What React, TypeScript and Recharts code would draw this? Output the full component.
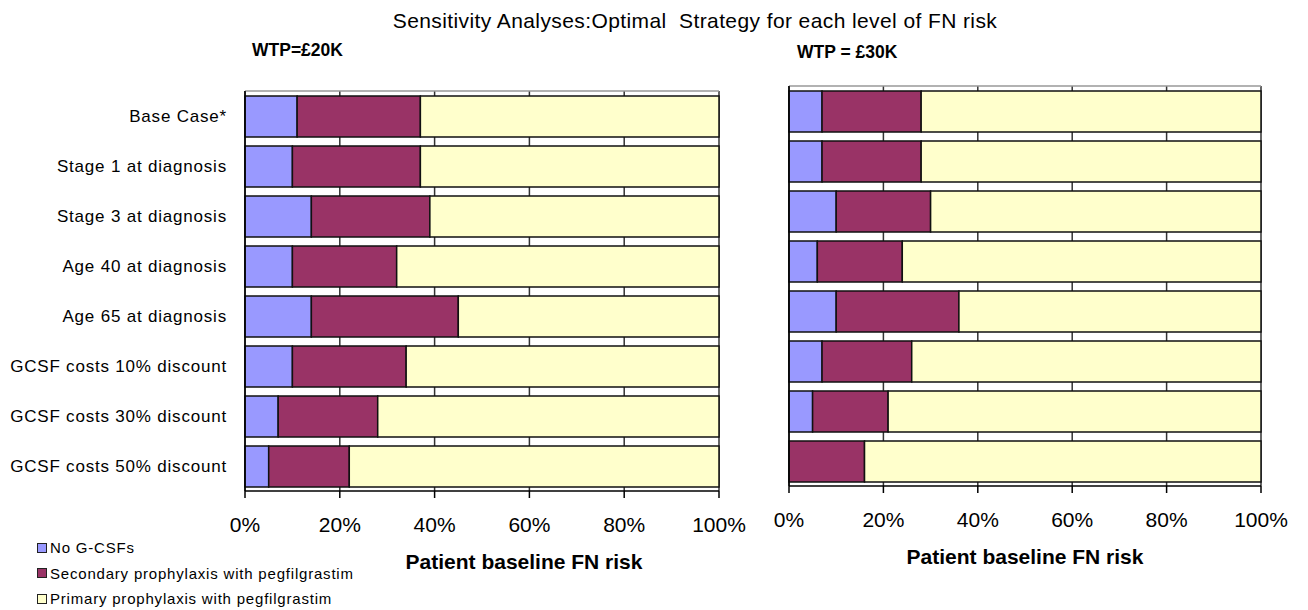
import { BarChart, Bar, XAxis, YAxis, CartesianGrid, Legend, Label } from 'recharts';

const categories = [
  'Base Case*',
  'Stage 1 at diagnosis',
  'Stage 3 at diagnosis',
  'Age 40 at diagnosis',
  'Age 65 at diagnosis',
  'GCSF costs 10% discount',
  'GCSF costs 30% discount',
  'GCSF costs 50% discount'
];

// WTP = £20K (share of patients, %)
const noGcsf20 = [11, 10, 14, 10, 14, 10, 7, 5];
const secondary20 = [26, 27, 25, 22, 31, 24, 21, 17];
const primary20 = [63, 63, 61, 68, 55, 66, 72, 78];

// WTP = £30K
const noGcsf30 = [7, 7, 10, 6, 10, 7, 5, 0];
const secondary30 = [21, 21, 20, 18, 26, 19, 16, 16];
const primary30 = [72, 72, 70, 76, 64, 74, 79, 84];

const percentTicks = [0, 20, 40, 60, 80, 100];
const bandEdges = [0, 1, 2, 3, 4, 5, 6, 7, 8];
const seriesOrder = ['none', 'secondary', 'primary'];

const FONT = '"Liberation Sans", Arial, sans-serif';

const data20 = categories.map((name, i) => ({
  name,
  none: noGcsf20[i],
  secondary: secondary20[i],
  primary: primary20[i]
}));

const data30 = categories.map((name, i) => ({
  name,
  none: noGcsf30[i],
  secondary: secondary30[i],
  primary: primary30[i]
}));

const CategoryTick = ({ x, y, payload }: any) => (
  <text x={x} y={y} dy={6} textAnchor="end" fontSize={17} letterSpacing={0.8} fill="#000" fontFamily={FONT}>
    {payload.value}
  </text>
);

const renderLegend = (props: any) => {
  const items = [...(props.payload || [])].sort(
    (a: any, b: any) => seriesOrder.indexOf(a.dataKey) - seriesOrder.indexOf(b.dataKey)
  );
  return (
    <div style={{ fontFamily: FONT }}>
      {items.map((entry: any) => (
        <div key={entry.value} style={{ display: 'flex', alignItems: 'center', height: 25.5, fontSize: 15, letterSpacing: 0.8 }}>
          <span
            style={{
              display: 'inline-block',
              width: 8,
              height: 8,
              background: entry.color,
              border: '1px solid #222',
              marginRight: 3
            }}
          />
          {entry.value}
        </div>
      ))}
    </div>
  );
};

interface PanelProps {
  data: any[];
  width: number;
  margin: { top: number; right: number; bottom: number; left: number };
  showCategories: boolean;
  labelShift: number;
  showLegend: boolean;
}

const Panel = ({ data, width, margin, showCategories, labelShift, showLegend }: PanelProps) => (
  <BarChart width={width} height={610} data={data} layout="vertical" margin={margin} barSize={41}>
    <CartesianGrid horizontal={false} stroke="#333" strokeWidth={1.5} />
    <XAxis
      type="number"
      domain={[0, 100]}
      ticks={percentTicks}
      tickFormatter={(v) => `${v}%`}
      tickSize={7}
      tickMargin={19}
      height={80}
      interval={0}
      axisLine={{ stroke: '#000', strokeWidth: 1.5 }}
      tickLine={{ stroke: '#000', strokeWidth: 1.5 }}
      tick={{ fontSize: 21, fill: '#000', fontFamily: FONT }}
    >
      <Label
        value="Patient baseline FN risk"
        position="insideBottom"
        offset={2}
        dx={labelShift}
        style={{ fontSize: 21, fontWeight: 'bold', fill: '#000', fontFamily: FONT }}
      />
    </XAxis>
    <XAxis
      xAxisId="top"
      orientation="top"
      type="number"
      domain={[0, 100]}
      height={1}
      tick={false}
      tickLine={false}
      axisLine={{ stroke: '#999', strokeWidth: 1.5 }}
    />
    <YAxis
      type="category"
      dataKey="name"
      width={1}
      interval={0}
      tickLine={false}
      tickSize={0}
      tickMargin={18}
      tick={showCategories ? <CategoryTick /> : false}
      axisLine={{ stroke: '#000', strokeWidth: 1.5 }}
    />
    <YAxis
      yAxisId="edges"
      type="number"
      domain={[0, 8]}
      ticks={bandEdges}
      interval={0}
      width={1}
      tick={false}
      tickSize={7}
      axisLine={false}
      tickLine={{ stroke: '#000', strokeWidth: 1.5 }}
    />
    {showLegend && (
      <Legend
        layout="vertical"
        align="center"
        verticalAlign="middle"
        content={renderLegend}
        wrapperStyle={{ left: 37, top: 535, width: 400 }}
      />
    )}
    <Bar dataKey="none" name="No G-CSFs" stackId="s" fill="#9999FF" stroke="#111" strokeWidth={1.5} isAnimationActive={false} />
    <Bar dataKey="secondary" name="Secondary prophylaxis with pegfilgrastim" stackId="s" fill="#993366" stroke="#111" strokeWidth={1.5} isAnimationActive={false} />
    <Bar dataKey="primary" name="Primary prophylaxis with pegfilgrastim" stackId="s" fill="#FFFFCC" stroke="#111" strokeWidth={1.5} isAnimationActive={false} />
  </BarChart>
);

export default function App() {
  return (
    <div style={{ position: 'absolute', left: 0, top: 0, width: 1308, height: 610, background: '#fff', fontFamily: FONT }}>
      <div
        style={{
          position: 'absolute',
          left: 295,
          top: 9,
          width: 800,
          textAlign: 'center',
          fontSize: 21,
          lineHeight: '24px',
          letterSpacing: 0.4,
          whiteSpace: 'pre'
        }}
      >
        Sensitivity Analyses:Optimal  Strategy for each level of FN risk
      </div>
      <div style={{ position: 'absolute', left: 252, top: 40, fontSize: 17.5, fontWeight: 'bold', lineHeight: '20px' }}>
        WTP=£20K
      </div>
      <div style={{ position: 'absolute', left: 797, top: 42, fontSize: 17.5, fontWeight: 'bold', lineHeight: '20px', whiteSpace: 'pre' }}>
        WTP = £30K
      </div>
      <div style={{ position: 'absolute', left: 0, top: 0 }}>
        <Panel
          data={data20}
          width={770}
          margin={{ top: 90, right: 51, bottom: 39, left: 243 }}
          showCategories
          labelShift={42}
          showLegend
        />
      </div>
      <div style={{ position: 'absolute', left: 760, top: 0 }}>
        <Panel
          data={data30}
          width={548}
          margin={{ top: 85, right: 47, bottom: 44, left: 27 }}
          showCategories={false}
          labelShift={0}
          showLegend={false}
        />
      </div>
    </div>
  );
}
